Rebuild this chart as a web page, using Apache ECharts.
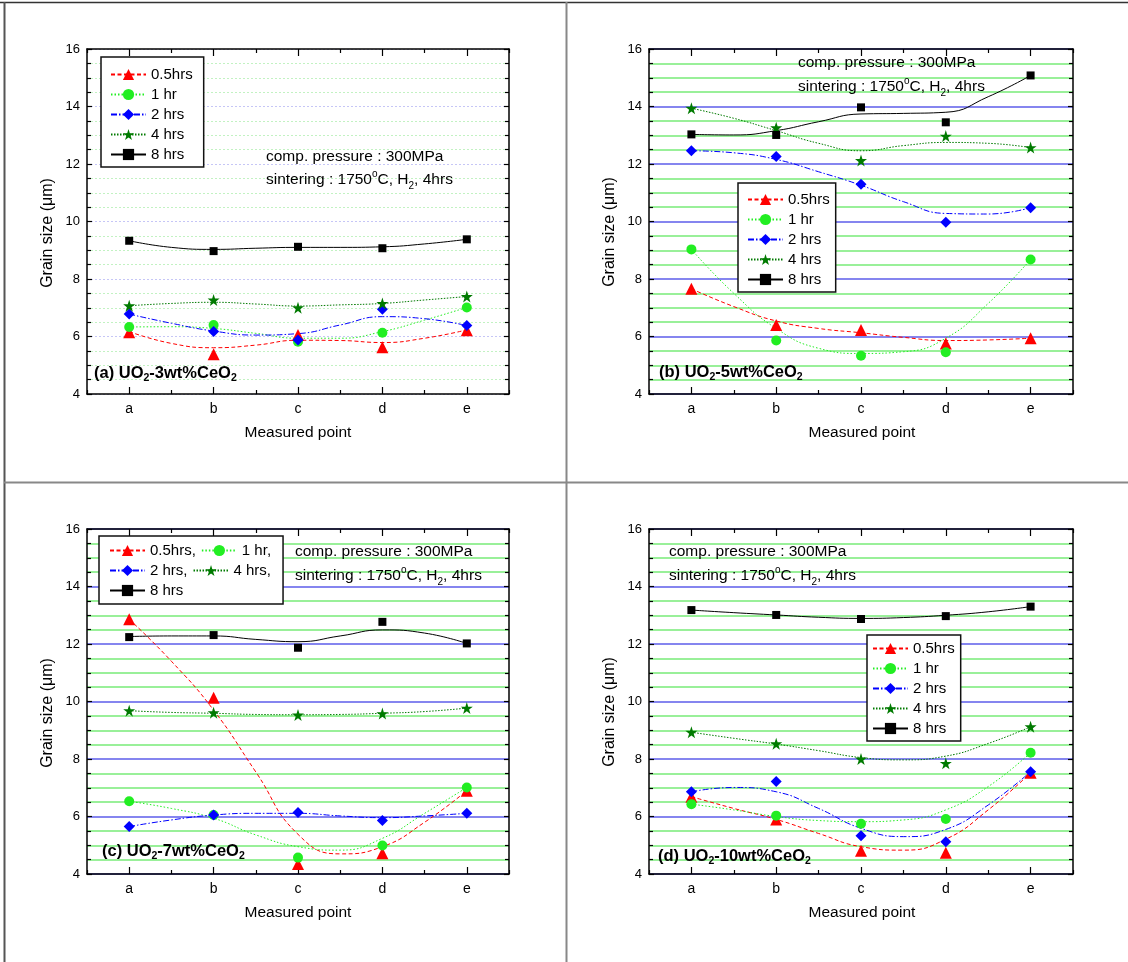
<!DOCTYPE html>
<html><head><meta charset="utf-8">
<script src="https://cdn.jsdelivr.net/npm/echarts@6/dist/echarts.min.js"></script>
<style>html,body{margin:0;padding:0;background:#fff}#c{width:1128px;height:962px}</style>
</head><body><div id="c"></div>
<script>
const categories = ['a', 'b', 'c', 'd', 'e'];
const pointX = [1, 2, 3, 4, 5];
const curveX = [1, 1.5, 2, 2.5, 3, 3.5, 4, 4.5, 5];
const seriesNames = ['0.5hrs', '1 hr', '2 hrs', '4 hrs', '8 hrs'];

// (a) UO2-3wt%CeO2 : measured points
const a_h05 = [6.15, 5.38, 6.05, 5.63, 6.22];
const a_h1  = [6.33, 6.40, 5.82, 6.13, 7.01];
const a_h2  = [6.78, 6.17, 5.88, 6.95, 6.38];
const a_h4  = [7.07, 7.27, 7.00, 7.15, 7.39];
const a_h8  = [9.33, 8.97, 9.12, 9.07, 9.38];
// (a) fitted curves read at a, a-b, b, ... e
const a_h05_fit = [6.17, 5.76, 5.61, 5.70, 5.87, 5.86, 5.79, 5.94, 6.23];
const a_h1_fit  = [6.33, 6.34, 6.28, 6.11, 5.94, 5.94, 6.17, 6.57, 7.01];
const a_h2_fit  = [6.78, 6.46, 6.19, 6.05, 6.10, 6.40, 6.69, 6.62, 6.38];
const a_h4_fit  = [7.07, 7.15, 7.19, 7.13, 7.06, 7.10, 7.15, 7.27, 7.39];
const a_h8_fit  = [9.33, 9.10, 9.03, 9.07, 9.10, 9.10, 9.12, 9.22, 9.38];

// (b) UO2-5wt%CeO2
const b_h05 = [7.66, 6.40, 6.23, 5.76, 5.94];
const b_h1  = [9.03, 5.86, 5.33, 5.45, 8.68];
const b_h2  = [12.46, 12.26, 11.30, 9.97, 10.48];
const b_h4  = [13.94, 13.26, 12.12, 12.97, 12.57];
const b_h8  = [13.03, 13.01, 13.97, 13.45, 15.08];
const b_h05_fit = [7.66, 7.04, 6.54, 6.28, 6.13, 5.97, 5.86, 5.88, 5.94];
const b_h1_fit  = [9.03, 7.50, 6.28, 5.59, 5.41, 5.47, 5.94, 7.15, 8.68];
const b_h2_fit  = [12.46, 12.39, 12.16, 11.73, 11.26, 10.69, 10.28, 10.26, 10.48];
const b_h4_fit  = [13.94, 13.59, 13.16, 12.72, 12.46, 12.64, 12.75, 12.72, 12.57];
const b_h8_fit  = [13.03, 13.01, 13.16, 13.47, 13.74, 13.76, 13.80, 14.34, 15.08];

// (c) UO2-7wt%CeO2
const c_h05 = [12.86, 10.13, 4.35, 4.72, 6.90];
const c_h1  = [6.53, 6.05, 4.57, 4.99, 7.01];
const c_h2  = [5.65, 6.05, 6.14, 5.86, 6.11];
const c_h4  = [9.68, 9.61, 9.53, 9.58, 9.77];
const c_h8  = [12.24, 12.31, 11.87, 12.77, 12.02];
const c_h05_fit = [12.86, 11.40, 9.70, 7.55, 5.38, 4.70, 4.95, 5.80, 6.90];
const c_h1_fit  = [6.53, 6.28, 5.94, 5.36, 4.95, 4.83, 5.24, 6.11, 7.01];
const c_h2_fit  = [5.65, 5.88, 6.05, 6.11, 6.11, 6.02, 5.96, 6.02, 6.11];
const c_h4_fit  = [9.68, 9.62, 9.59, 9.55, 9.54, 9.55, 9.59, 9.65, 9.77];
const c_h8_fit  = [12.26, 12.28, 12.28, 12.16, 12.08, 12.28, 12.49, 12.38, 12.02];

// (d) UO2-10wt%CeO2
const d_h05 = [6.69, 5.90, 4.81, 4.74, 7.52];
const d_h1  = [6.43, 6.03, 5.75, 5.91, 8.22];
const d_h2  = [6.86, 7.22, 5.33, 5.12, 7.56];
const d_h4  = [8.93, 8.53, 8.00, 7.85, 9.12];
const d_h8  = [13.18, 13.01, 12.87, 12.97, 13.30];
const d_h05_fit = [6.69, 6.28, 5.90, 5.41, 4.95, 4.83, 5.21, 6.23, 7.52];
const d_h1_fit  = [6.43, 6.23, 6.00, 5.86, 5.82, 5.88, 6.23, 7.04, 8.22];
const d_h2_fit  = [6.86, 7.01, 6.86, 6.28, 5.59, 5.30, 5.55, 6.40, 7.56];
const d_h4_fit  = [8.93, 8.72, 8.52, 8.29, 8.05, 7.97, 8.10, 8.54, 9.12];
const d_h8_fit  = [13.18, 13.09, 13.01, 12.93, 12.89, 12.92, 13.00, 13.12, 13.30];

const FONT = '"Liberation Sans", Arial, sans-serif';
const STAR = 'path://M50,0 L61.2,34.5 L97.6,34.5 L68.2,55.9 L79.4,90.5 L50,69.1 L20.6,90.5 L31.8,55.9 L2.4,34.5 L38.8,34.5 Z';

const styles = [
  { color: '#ff0000', dash: [4, 2.5], symbol: 'triangle', size: 12 },
  { color: '#22ee22', dash: [1.5, 2], symbol: 'circle', size: 10 },
  { color: '#0000ff', dash: [6, 2, 1.5, 2], symbol: 'diamond', size: 11 },
  { color: '#007a00', dash: [1.5, 1.5], symbol: STAR, size: 12 },
  { color: '#000000', dash: 'solid', symbol: 'rect', size: 8 }
];

const panels = [
  { grid: { left: 87, top: 49, width: 422, height: 345 }, light: true,
    pts: [a_h05, a_h1, a_h2, a_h4, a_h8], fit: [a_h05_fit, a_h1_fit, a_h2_fit, a_h4_fit, a_h8_fit],
    legend: { orient: 'vertical', left: 101, top: 57, padding: [10, 11, 5, 9] } },
  { grid: { left: 649, top: 49, width: 424, height: 345 }, light: false,
    pts: [b_h05, b_h1, b_h2, b_h4, b_h8], fit: [b_h05_fit, b_h1_fit, b_h2_fit, b_h4_fit, b_h8_fit],
    legend: { orient: 'vertical', left: 738, top: 183, padding: [9, 6, 5, 9] } },
  { grid: { left: 87, top: 529, width: 422, height: 345 }, light: false,
    pts: [c_h05, c_h1, c_h2, c_h4, c_h8], fit: [c_h05_fit, c_h1_fit, c_h2_fit, c_h4_fit, c_h8_fit],
    legend: { orient: 'horizontal', left: 99, top: 536, width: 168, padding: [7, 12, 6, 10],
              formatter: n => (n === '8 hrs' ? n : n + ',') } },
  { grid: { left: 649, top: 529, width: 424, height: 345 }, light: false,
    pts: [d_h05, d_h1, d_h2, d_h4, d_h8], fit: [d_h05_fit, d_h1_fit, d_h2_fit, d_h4_fit, d_h8_fit],
    legend: { orient: 'vertical', left: 867, top: 635, padding: [6, 6, 5, 5] } }
];

const axisLine = { show: true, onZero: false, lineStyle: { color: '#000', width: 1.5 } };
const tickLine = { color: '#000', width: 1.2 };

const grids = [], xAxes = [], yAxes = [], lineSeries = [], dotSeries = [], legends = [];
panels.forEach((p, i) => {
  grids.push(Object.assign({ containLabel: false }, p.grid));
  const xb = { type: 'value', gridIndex: i, min: 0.5, max: 5.5 };
  xAxes.push(Object.assign({}, xb, { position: 'bottom', interval: 1, axisLine,
    axisTick: { show: true, inside: true, length: 4, lineStyle: tickLine },
    minorTick: { show: true, splitNumber: 2, length: 7, lineStyle: tickLine },
    axisLabel: { show: false }, splitLine: { show: false } }));
  xAxes.push(Object.assign({}, xb, { position: 'bottom', interval: 0.5,
    axisLine: { show: false }, axisTick: { show: false }, splitLine: { show: false },
    axisLabel: { show: true, margin: 8, fontSize: 14, color: '#000', fontFamily: FONT,
      formatter: v => { const k = Math.round(v * 2); return k % 2 === 0 ? categories[k / 2 - 1] : ''; } } }));
  xAxes.push(Object.assign({}, xb, { position: 'top', interval: 1, axisLine,
    axisTick: { show: true, inside: true, length: 4, lineStyle: tickLine },
    minorTick: { show: true, splitNumber: 2, length: 7, lineStyle: tickLine },
    axisLabel: { show: false }, splitLine: { show: false } }));
  const yb = { type: 'value', gridIndex: i, min: 4, max: 16, interval: 2 };
  yAxes.push(Object.assign({}, yb, { position: 'left', axisLine,
    axisTick: { show: true, inside: true, length: 5, lineStyle: tickLine },
    minorTick: { show: true, splitNumber: 4, length: 4, lineStyle: tickLine },
    axisLabel: { fontSize: 13, margin: 7, color: '#000', fontFamily: FONT },
    splitLine: { show: true, lineStyle: p.light ? { color: '#c6c6f6', width: 1, type: [2, 2] } : { color: '#5c5cea', width: 1.5 } },
    minorSplitLine: { show: true, lineStyle: p.light ? { color: '#c2f2c2', width: 1, type: [2, 2] } : { color: '#78ec78', width: 1.5 } } }));
  yAxes.push(Object.assign({}, yb, { position: 'right', axisLine,
    axisTick: { show: true, inside: true, length: 5, lineStyle: tickLine },
    minorTick: { show: true, splitNumber: 4, length: 4, lineStyle: tickLine },
    axisLabel: { show: false }, splitLine: { show: false } }));
  seriesNames.forEach((name, s) => {
    const st = styles[s];
    lineSeries.push({ type: 'line', name, xAxisIndex: i * 3 + 1, yAxisIndex: i * 2,
      data: curveX.map((x, k) => [x, p.fit[s][k]]), smooth: 0.5, showSymbol: false,
      symbol: st.symbol, symbolSize: st.size, silent: true, z: 3,
      itemStyle: { color: st.color }, lineStyle: { color: st.color, width: 1, type: st.dash } });
    dotSeries.push({ type: 'scatter', name, xAxisIndex: i * 3 + 1, yAxisIndex: i * 2,
      data: pointX.map((x, k) => [x, p.pts[s][k]]), symbol: st.symbol, symbolSize: st.size,
      silent: true, z: 4, itemStyle: { color: st.color, opacity: 1 } });
  });
  legends.push(Object.assign({ data: seriesNames, selectedMode: false, itemWidth: 35, itemHeight: 14,
    itemGap: 5, backgroundColor: '#fff', borderColor: '#111', borderWidth: 1.5, z: 10,
    textStyle: { fontSize: 15, color: '#000', fontFamily: FONT } }, p.legend));
});

const rich = {
  n: { fontSize: 15.5, fontFamily: FONT, lineHeight: 22, fill: '#000' },
  sup: { fontSize: 10, fontFamily: FONT, lineHeight: 15, verticalAlign: 'top', fill: '#000' },
  sub: { fontSize: 10, fontFamily: FONT, lineHeight: 4, verticalAlign: 'bottom', fill: '#000' },
  b: { fontSize: 16.5, fontFamily: FONT, fontWeight: 'bold', lineHeight: 22, fill: '#000' },
  bs: { fontSize: 10.5, fontFamily: FONT, fontWeight: 'bold', lineHeight: 4, verticalAlign: 'bottom', fill: '#000' }
};
function txt(x, y, text, extra) {
  return Object.assign({ type: 'text', x, y, z: 50, silent: true,
    style: { text, rich, fill: '#000', verticalAlign: 'middle', align: 'left' } }, extra || {});
}
const L1 = '{n|comp. pressure : 300MPa}';
const L2 = '{n|sintering : 1750}{sup|o}{n|C, H}{sub|2}{n|, 4hrs}';
const annot = [[266, 157, 180], [798, 63, 87], [295, 552, 576], [669, 552, 576]];
const labels = [[94, 373, '3'], [659, 372, '5'], [102, 851, '7'], [658, 856, '10']];
const yTitle = [[48, 233], [610, 232], [48, 713], [610, 712]];
const xTitle = [[298, 433], [862, 433], [298, 913], [862, 913]];

const graphics = [];
annot.forEach(a => { graphics.push(txt(a[0], a[1], L1)); graphics.push(txt(a[0], a[2], L2)); });
labels.forEach((l, k) => graphics.push(txt(l[0], l[1],
  '{b|(' + 'abcd'[k] + ') UO}{bs|2}{b|-' + l[2] + 'wt%CeO}{bs|2}')));
yTitle.forEach(t => graphics.push({ type: 'text', x: t[0], y: t[1], rotation: Math.PI / 2, silent: true,
  style: { text: 'Grain size (μm)', font: '16px ' + FONT, fill: '#000', align: 'center', verticalAlign: 'middle' } }));
xTitle.forEach(t => graphics.push({ type: 'text', x: t[0], y: t[1], silent: true,
  style: { text: 'Measured point', font: '15.5px ' + FONT, fill: '#000', align: 'center', verticalAlign: 'middle' } }));
// panel frame lines
graphics.push({ type: 'line', silent: true, shape: { x1: 0, y1: 2.5, x2: 1128, y2: 2.5 }, style: { stroke: '#333', lineWidth: 1.5 } });
graphics.push({ type: 'line', silent: true, shape: { x1: 4.5, y1: 2, x2: 4.5, y2: 962 }, style: { stroke: '#555', lineWidth: 2 } });
graphics.push({ type: 'line', silent: true, shape: { x1: 566.5, y1: 2, x2: 566.5, y2: 962 }, style: { stroke: '#888', lineWidth: 2 } });
graphics.push({ type: 'line', silent: true, shape: { x1: 4, y1: 482.5, x2: 1128, y2: 482.5 }, style: { stroke: '#888', lineWidth: 2 } });

const chart = echarts.init(document.getElementById('c'), null, { renderer: 'canvas' });
chart.setOption({
  animation: false,
  backgroundColor: '#fff',
  textStyle: { fontFamily: FONT },
  grid: grids,
  xAxis: xAxes,
  yAxis: yAxes,
  legend: legends,
  graphic: graphics,
  series: lineSeries.concat(dotSeries)
});
</script></body></html>
